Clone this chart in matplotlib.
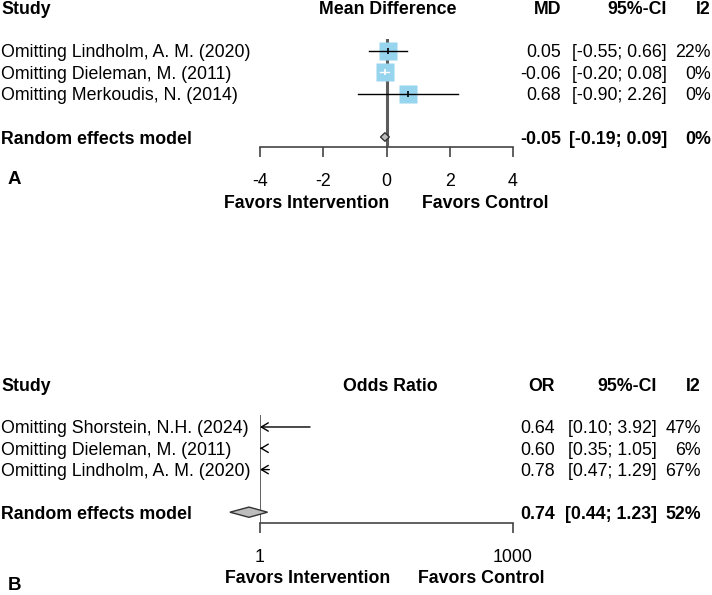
import numpy as np
import matplotlib
matplotlib.use("Agg")
import matplotlib.pyplot as plt
from matplotlib.transforms import blended_transform_factory
from matplotlib.patches import Polygon

# panel A: mean difference, leave-one-out
studies_a = ["Omitting Lindholm, A. M. (2020)", "Omitting Dieleman, M. (2011)",
             "Omitting Merkoudis, N. (2014)"]
md_a = [0.05, -0.06, 0.68]
lo_a = [-0.55, -0.20, -0.90]
hi_a = [0.66, 0.08, 2.26]
i2_a = ["22%", "0%", "0%"]
pooled_a = [-0.05, -0.19, 0.09]
pooled_i2_a = "0%"
ticks_a = [-4, -2, 0, 2, 4]

# panel B: odds ratio, leave-one-out
studies_b = ["Omitting Shorstein, N.H. (2024)", "Omitting Dieleman, M. (2011)",
             "Omitting Lindholm, A. M. (2020)"]
or_b = [0.64, 0.60, 0.78]
lo_b = [0.10, 0.35, 0.47]
hi_b = [3.92, 1.05, 1.29]
i2_b = ["47%", "6%", "67%"]
pooled_b = [0.74, 0.44, 1.23]
pooled_i2_b = "52%"
ticks_b = [1, 1000]

plt.rcParams["font.family"] = ["Liberation Sans", "DejaVu Sans"]
plt.rcParams["axes.unicode_minus"] = False

W, H = 712, 595
fs = 12.8
sq_col = "#97d4ee"
ln_col = "#444444"

fig = plt.figure(figsize=(W / 100, H / 100), dpi=100)


def px_axes(x0, x1, y0, y1):
    return fig.add_axes([x0 / W, 1 - y1 / H, (x1 - x0) / W, (y1 - y0) / H])


def forest_panel(ax, names, est, lo, hi, i2, pooled, pooled_i2, cols, head, ref, letter, fav, log=False):
    tr = blended_transform_factory(fig.transFigure, ax.transData)
    rows = [1, 2, 3]
    prow = 5

    def put(x, r, s, ha="left", bold=False, size=fs):
        ax.text(x / W, r, s, transform=tr, ha=ha, va="center_baseline", fontsize=size,
                fontweight="bold" if bold else "normal", clip_on=False)

    # header
    put(1, -1, "Study", bold=True)
    put(cols[0], -1, head, ha="center", bold=True)
    put(cols[1], -1, cols[4], ha="right", bold=True)
    put(cols[2], -1, "95%-CI", ha="right", bold=True)
    put(cols[3], -1, "I2", ha="right", bold=True)

    for r, n, e, l, h, q in zip(rows, names, est, lo, hi, i2):
        put(1, r, n)
        put(cols[1], r, f"{e:.2f}", ha="right")
        put(cols[2], r, f"[{l:.2f}; {h:.2f}]", ha="right")
        put(cols[3], r, q, ha="right")
    put(1, prow, "Random effects model", bold=True)
    put(cols[1], prow, f"{pooled[0]:.2f}", ha="right", bold=True)
    put(cols[2], prow, f"[{pooled[1]:.2f}; {pooled[2]:.2f}]", ha="right", bold=True)
    put(cols[3], prow, pooled_i2, ha="right", bold=True)

    put(fav[0], 8, "Favors Intervention", ha="right", bold=True)
    put(fav[1], 8, "Favors Control", ha="left", bold=True)
    put(fav[2], fav[3], letter, bold=True, size=13.5)

    for s in ["top", "left", "right"]:
        ax.spines[s].set_visible(False)
    ax.spines["bottom"].set_color(ln_col)
    ax.spines["bottom"].set_linewidth(1.2)
    ax.set_yticks([])
    ax.set_xticks(ref[1])
    ax.set_xticklabels([str(t) for t in ref[1]])
    ax.tick_params(axis="x", length=7.5, width=1.2, color=ln_col, labelsize=fs, pad=11.5)
    ax.patch.set_alpha(0)


# ---- panel A ----
axa = px_axes(260, 513, 39, 147)
axa.set_xlim(-4, 4)
axa.set_ylim(5.465, 0.442)
axa.axvline(0, color="#5c5c5c", lw=2.2, zorder=1)
for r, e, l, h in zip([1, 2, 3], md_a, lo_a, hi_a):
    axa.plot(e, r, marker="s", ms=12.3, mfc=sq_col, mec="none", ls="none", zorder=2)
    inside = (h - l) * 31.5 < 17
    c = "white" if inside else "black"
    axa.plot([l, h], [r, r], color=c, lw=1.0, zorder=3)
    axa.plot(e, r, marker="|", ms=5, mew=1.2, color=c, zorder=3)
da = Polygon([[pooled_a[1], 5], [pooled_a[0], 4.8], [pooled_a[2], 5], [pooled_a[0], 5.2]],
             closed=True, fc="#bdbdbd", ec="#333333", lw=1.0, zorder=4)
axa.add_patch(da)
forest_panel(axa, studies_a, md_a, lo_a, hi_a, i2_a, pooled_a, pooled_i2_a,
             [388, 561, 667, 711, "MD"], "Mean Difference", (0, ticks_a), "A",
             (389, 422, 8, 6.9))

# ---- panel B ----
axb = px_axes(260, 513, 415, 523)
axb.set_xscale("log")
axb.set_xlim(1, 1000)
axb.set_ylim(5.507, 0.437)
axb.minorticks_off()
axb.axvline(1, color="#555555", lw=1.3, zorder=1)
for r, l, h in zip([1, 2, 3], lo_b, hi_b):
    axb.annotate("", xy=(1, r), xytext=(h, r),
                 arrowprops=dict(arrowstyle="->,head_length=0.5,head_width=0.3", lw=1.0,
                                 color="black", shrinkA=0, shrinkB=0))
db = Polygon([[pooled_b[1], 5], [pooled_b[0], 4.76], [pooled_b[2], 5], [pooled_b[0], 5.24]],
             closed=True, fc="#bdbdbd", ec="#333333", lw=1.0, zorder=4, clip_on=False)
axb.add_patch(db)
forest_panel(axb, studies_b, or_b, lo_b, hi_b, i2_b, pooled_b, pooled_i2_b,
             [390, 555, 657, 701, "OR"], "Odds Ratio", (1, ticks_b), "B",
             (390, 418, 8, 8.35))

fig.savefig("out.png", dpi=100)
